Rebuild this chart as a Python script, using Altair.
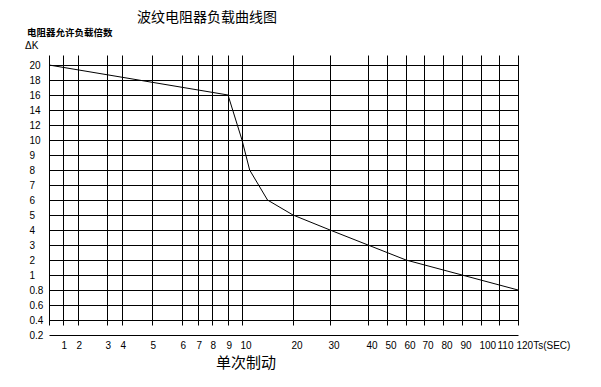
import altair as alt
import pandas as pd

# Axis tick values (hand-drawn, non-uniform x axis)
x_ticks = [0, 1, 2, 3, 4, 5, 6, 7, 8, 9, 10, 20, 30, 40, 50, 60, 70, 80, 90, 100, 110, 120]
y_ticks = [0.2, 0.4, 0.6, 0.8, 1, 2, 3, 4, 5, 6, 7, 8, 9, 10, 12, 14, 16, 18, 20]

# Curve values
ts = [0, 9, 10, 11.5, 15, 20, 30, 40, 60, 90, 120]
dk = [20, 16, 10, 8, 6, 5, 4, 3, 2, 1, 0.8]

# Scale layout (piecewise positions of the grid)
x_range = [0, 14, 29, 58, 73, 103, 133, 149, 163, 179, 193, 244, 281, 319, 338, 357, 375, 394, 413, 432, 450, 469]
W, H = 469, 280
y_range = [H - 15 * i for i in range(len(y_ticks))]

df = pd.DataFrame({"ts": ts, "dk": dk})

FONT = "Liberation Sans"
CJK = "Noto Sans CJK SC"

line = alt.Chart(df).mark_line(color="black", strokeWidth=1).encode(
    x=alt.X("ts:Q",
            scale=alt.Scale(domain=x_ticks, range=x_range, nice=False, zero=False),
            axis=alt.Axis(values=x_ticks, title=None, grid=True, gridColor="black",
                          gridOpacity=1, gridWidth=1, domain=False, ticks=False,
                          labelAlign="left", labelPadding=5, labelOffset=-2, labelFont=FONT,
                          labelFontSize=10, labelColor="black", labelOverlap=False,
                          labelExpr="datum.value == 0 ? '' : (datum.value == 120 ? '120Ts(SEC)' : datum.value + '')")),
    y=alt.Y("dk:Q",
            scale=alt.Scale(domain=y_ticks, range=y_range, nice=False, zero=False),
            axis=alt.Axis(values=y_ticks, title=None, grid=True, gridColor="black",
                          gridOpacity=1, gridWidth=1, domain=False, ticks=False,
                          labelAlign="left", labelPadding=20, labelFont=FONT,
                          labelFontSize=10, labelColor="black", labelOverlap=False,
                          labelBaseline="middle",
                          labelExpr="datum.value + ''")),
)


def txt(s, x, y, size, weight="normal", align="center", font=CJK):
    return alt.Chart(pd.DataFrame({"t": [s]})).mark_text(
        fontSize=size, fontWeight=weight, align=align, baseline="middle",
        font=font, color="black"
    ).encode(text="t:N", x=alt.value(x), y=alt.value(y))


title = txt("波纹电阻器负载曲线图", 158, -37, 14)
ylab = txt("电阻器允许负载倍数", -22, -22, 9.5, weight="bold", align="left")
dlab = txt("ΔK", -24, -9, 10, align="left", font=FONT)
xlab = txt("单次制动", 197, 308, 15)

chart = alt.layer(line, title, ylab, dlab, xlab).properties(
    width=W, height=H,
    autosize=alt.AutoSizeParams(type="none"),
    padding={"left": 41, "top": 47, "right": 75, "bottom": 44},
).configure_view(stroke=None)

chart.save("out.html", embed_options={"renderer": "svg", "actions": False})
